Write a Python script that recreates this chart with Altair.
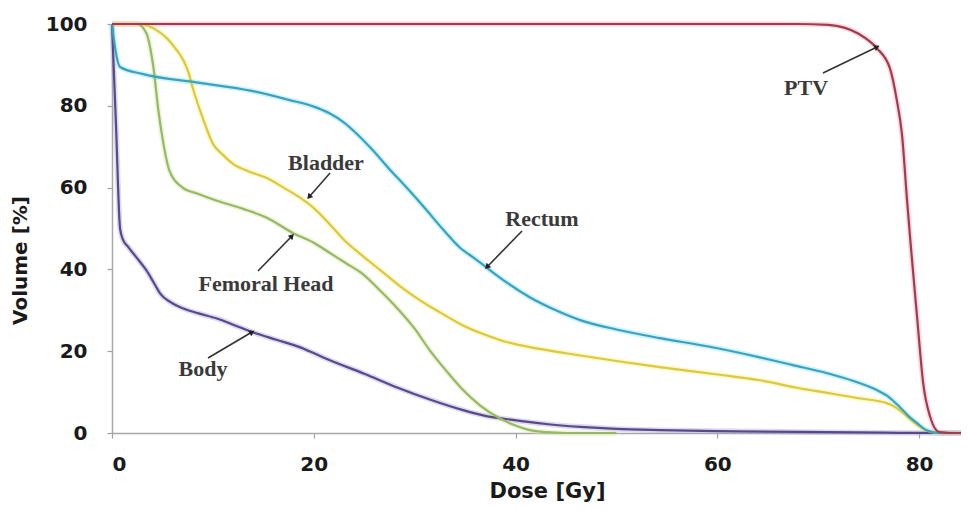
import math
import altair as alt
import pandas as pd

# ---------------- data ----------------
organs = ["Body", "Femoral Head", "Bladder", "Rectum", "PTV"]

ptv_dose = [0, 68, 71, 74, 75.8, 77.1, 77.8, 78.3, 78.8, 79.2, 79.8, 80.4, 81.1, 82, 83, 84.15]
ptv_vol = [100, 100, 99.8, 97.6, 94.1, 89.2, 81.2, 73, 57, 45, 28.3, 12.2, 3.9, 0.2, 0, 0]

rectum_dose = [0, 0.2, 0.8, 3, 8.7, 13.7, 17.6, 20, 21.6, 23, 24.2, 25.9, 27.5, 29.2, 31, 32.8,
               34.5, 36, 37.1, 39, 41.4, 44, 46.4, 50, 54.3, 59, 64.2, 67.5, 70.9, 73.5, 75.8,
               77, 78.1, 79, 79.8, 80.8, 82, 84.15]
rectum_vol = [100, 96, 89.5, 87.8, 85.6, 83.7, 81.4, 79.8, 78.1, 75.9, 73.3, 69, 64.5, 60, 55,
              49.8, 45.3, 42.6, 40.5, 37, 33.2, 30, 27.6, 25.3, 23.2, 21.2, 18.5, 16.6, 14.6,
              12.7, 10.5, 8.8, 6.3, 4, 2.4, 0.6, 0, 0]

bladder_dose = [0, 2.8, 4.2, 5.4, 6.3, 7.1, 7.6, 8, 8.5, 9, 10, 11, 12, 13.5, 15.3, 17, 18.6, 20,
                21.6, 23, 24.5, 26.5, 28.5, 30.5, 32.5, 34.8, 37, 39, 41.4, 45, 50, 54.3, 60,
                64.2, 68, 70.9, 74, 76.8, 77.7, 78.4, 79.3, 80.1, 81, 82, 84.15]
bladder_vol = [100, 100, 98.8, 96.6, 94, 91, 88, 84.4, 80.5, 77, 70.7, 68, 65.8, 64, 62.4, 60,
               57.6, 55, 51, 47.2, 44, 40, 36, 32.5, 29.5, 26.3, 24, 22.3, 21, 19.5, 17.6, 16.1,
               14.3, 12.9, 11, 9.8, 8.5, 7.3, 6.2, 4.9, 3, 1.5, 0.4, 0, 0]

femoral_dose = [0, 2.5, 3.4, 3.8, 4.1, 4.6, 5.1, 5.7, 7, 8.5, 10.4, 13, 15.3, 18, 20, 21.6, 23.2,
                24.9, 26.5, 28.2, 30, 31.5, 33.2, 34.8, 36.5, 38.2, 39.8, 41.4, 43, 45, 50]
femoral_vol = [100, 100, 97.8, 94, 89.5, 78.8, 70.7, 64.1, 60, 58.5, 56.8, 54.8, 52.7, 48.8, 46.5,
               44, 41.5, 38.8, 35, 30.7, 25.5, 20.2, 15, 10.5, 6.7, 3.9, 2, 0.7, 0.2, 0, 0]

body_dose = [0, 0.4, 0.8, 1.1, 1.6, 2.4, 3.4, 4.2, 4.8, 5.8, 7, 8.5, 10.4, 12.2, 14, 16.3, 18.6,
             20.2, 21.6, 25, 28.2, 31.5, 34.8, 37, 39.7, 43, 46.4, 50, 54.3, 62, 70.9, 78, 84.15]
body_vol = [100, 75, 50, 47.2, 45.5, 43, 39.8, 36.5, 34, 32, 30.5, 29.3, 28, 26.3, 24.6, 22.8, 21,
            19.3, 17.8, 14.5, 11.2, 8.2, 5.6, 4.2, 3.2, 2.2, 1.5, 1, 0.7, 0.4, 0.2, 0.05, 0]

# annotations: label position, arrow start, arrow tip (data units)
ann_text = ["PTV", "Bladder", "Rectum", "Femoral Head", "Body"]
ann_tx = [68.79, 21.21, 42.62, 15.26, 9.02]
ann_ty = [84.35, 66.01, 52.32, 36.43, 15.65]
arr_x0 = [70.47, 21.61, 40.64, 14.47, 9.52]
arr_y0 = [88.02, 63.57, 49.39, 39.61, 18.34]
arr_x1 = [75.83, 19.53, 37.17, 17.84, 13.88]
arr_y1 = [94.38, 57.70, 40.59, 48.17, 24.69]

x_ticks = [0, 20, 40, 60, 80]
y_ticks = [0, 20, 40, 60, 80, 100]

# ---------------- styling ----------------
X_MAX = 84.15
W, H = 849, 409
core_colors = {"PTV": "#a13c50", "Rectum": "#3aa2bc", "Bladder": "#dcc83e",
               "Femoral Head": "#97b866", "Body": "#584a8a"}
halo_colors = {"PTV": "#f2a6b4", "Rectum": "#86e2f0", "Bladder": "#f7ef86",
               "Femoral Head": "#d2e8a6", "Body": "#b0a2d6"}

series = {
    "PTV": (ptv_dose, ptv_vol),
    "Rectum": (rectum_dose, rectum_vol),
    "Bladder": (bladder_dose, bladder_vol),
    "Femoral Head": (femoral_dose, femoral_vol),
    "Body": (body_dose, body_vol),
}

x_enc = alt.X(
    "dose:Q",
    scale=alt.Scale(domain=[0, X_MAX], nice=False, zero=False),
    axis=alt.Axis(
        values=x_ticks, grid=False, domainColor="#a8a8a8", domainWidth=1.5,
        tickColor="#a0a0a0", tickSize=5, tickWidth=1.2,
        labelFont="DejaVu Sans", labelFontWeight="bold", labelFontSize=20,
        labelColor="#1a1a1a", labelPadding=16,
        title="Dose [Gy]", titleFont="DejaVu Sans", titleFontSize=21,
        titleFontWeight="bold", titleColor="#1a1a1a",
        titleX=435, titleY=64, titleBaseline="alphabetic", titleAlign="center",
    ),
)
y_enc = alt.Y(
    "vol:Q",
    scale=alt.Scale(domain=[0, 100], nice=False),
    axis=alt.Axis(
        values=y_ticks, grid=False, domainColor="#a8a8a8", domainWidth=1.5,
        tickColor="#a0a0a0", tickSize=5, tickWidth=1.2,
        labelFont="DejaVu Sans", labelFontWeight="bold", labelFontSize=20,
        labelColor="#1a1a1a", labelPadding=20,
        title="Volume [%]", titleFont="DejaVu Sans", titleFontSize=20,
        titleFontWeight="bold", titleColor="#1a1a1a",
        titleX=-82, titleY=236, titleAngle=270, titleBaseline="bottom",
        titleAlign="center",
    ),
)

layers = []
for name in ["Body", "Femoral Head", "Bladder", "Rectum", "PTV"]:
    xs, ys = series[name]
    d = pd.DataFrame({"dose": xs, "vol": ys})
    layers.append(
        alt.Chart(d).mark_line(strokeWidth=5.5, opacity=0.4, interpolate="monotone",
                               color=halo_colors[name]).encode(x=x_enc, y=y_enc)
    )
for name in ["Body", "Femoral Head", "Bladder", "Rectum", "PTV"]:
    xs, ys = series[name]
    d = pd.DataFrame({"dose": xs, "vol": ys})
    layers.append(
        alt.Chart(d).mark_line(strokeWidth=2.2, interpolate="monotone",
                               color=core_colors[name]).encode(x=x_enc, y=y_enc)
    )

# annotations
px_per_x = W / X_MAX
px_per_y = H / 100.0
angles = []
for a, b, c, e in zip(arr_x0, arr_y0, arr_x1, arr_y1):
    dx = (c - a) * px_per_x
    dy = -(e - b) * px_per_y
    angles.append(math.degrees(math.atan2(dx, -dy)) % 360)

ann = pd.DataFrame({"dose": ann_tx, "vol": ann_ty, "label": ann_text})
arrows = pd.DataFrame({"dose": arr_x0, "vol": arr_y0, "dose2": arr_x1, "vol2": arr_y1,
                       "ang": angles})

layers.append(
    alt.Chart(arrows).mark_rule(color="#333333", strokeWidth=1.6).encode(
        x=x_enc, y=y_enc, x2="dose2:Q", y2="vol2:Q")
)
layers.append(
    alt.Chart(arrows).mark_point(shape="triangle-up", filled=True, size=40, color="#222222",
                                 opacity=1).encode(
        x=alt.X("dose2:Q", scale=alt.Scale(domain=[0, X_MAX], nice=False, zero=False)),
        y=alt.Y("vol2:Q", scale=alt.Scale(domain=[0, 100], nice=False)),
        angle=alt.Angle("ang:Q", scale=None))
)
layers.append(
    alt.Chart(ann).mark_text(font="Liberation Serif", fontSize=22, fontWeight="bold",
                             color="#3a3a3a", align="center", baseline="middle").encode(
        x=x_enc, y=y_enc, text="label:N")
)

chart = alt.layer(*layers).properties(
    width=W, height=H,
    autosize=alt.AutoSizeParams(type="none"),
    padding={"left": 104, "top": 16, "right": 0, "bottom": 69},
    background="white",
).configure_view(stroke=None)

chart.save("out.html", embed_options={"renderer": "svg", "actions": False})
